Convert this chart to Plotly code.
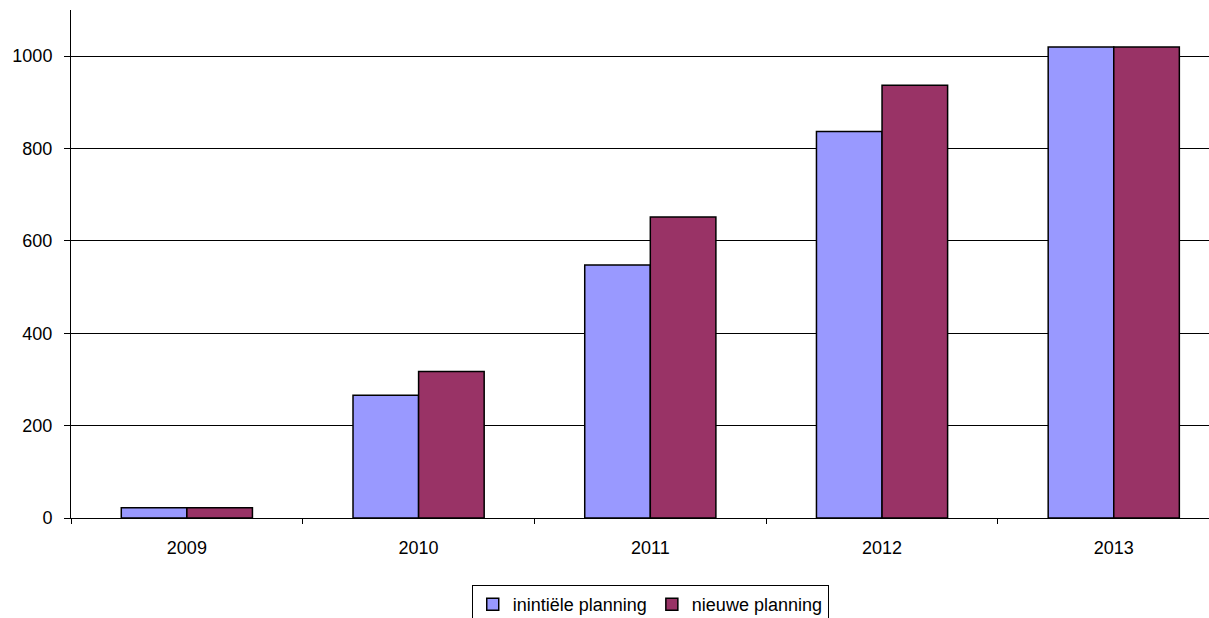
import plotly.graph_objects as go

years = ["2009", "2010", "2011", "2012", "2013"]
initieel = [22, 266, 548, 837, 1020]
nieuw = [22, 317, 652, 937, 1020]
series_names = ["inintiële planning", "nieuwe planning"]
colors = ["#9999FF", "#993366"]

fig = go.Figure()
for name, vals, col in zip(series_names, [initieel, nieuw], colors):
    fig.add_trace(go.Bar(
        x=years, y=vals, name=name,
        marker=dict(color=col, line=dict(color="black", width=1.5)),
    ))

font = dict(family="Liberation Sans, Arial, sans-serif", size=18, color="black")

fig.update_layout(
    width=1209, height=618,
    margin=dict(l=71, r=0, t=10, b=100, autoexpand=False),
    paper_bgcolor="white", plot_bgcolor="white",
    barmode="group", bargap=0.434, bargroupgap=0,
    font=font,
    showlegend=True,
    legend=dict(
        orientation="h", x=0.509, xanchor="center", y=-0.132, yanchor="top",
        bordercolor="black", borderwidth=1, font=font,
        itemwidth=30, traceorder="normal",
    ),
    xaxis=dict(
        type="category", range=[-0.5, 4.411], automargin=False,
        showline=True, linecolor="black", linewidth=1,
        ticks="outside", tickson="boundaries", ticklen=5, tickcolor="black",
        showgrid=False, tickfont=font, ticklabelstandoff=13,
    ),
    yaxis=dict(
        range=[0, 1100], tickvals=[0, 200, 400, 600, 800, 1000], automargin=False,
        showline=True, linecolor="black", linewidth=1,
        ticks="outside", ticklen=6, tickcolor="black",
        showgrid=True, gridcolor="black", gridwidth=1,
        zeroline=False, tickfont=font, ticklabelstandoff=8,
    ),
)

fig.write_html(
    "out.html",
    config={"displayModeBar": False},
    post_script="document.body.style.margin='0';document.body.style.padding='0';document.body.style.overflow='hidden';",
)
